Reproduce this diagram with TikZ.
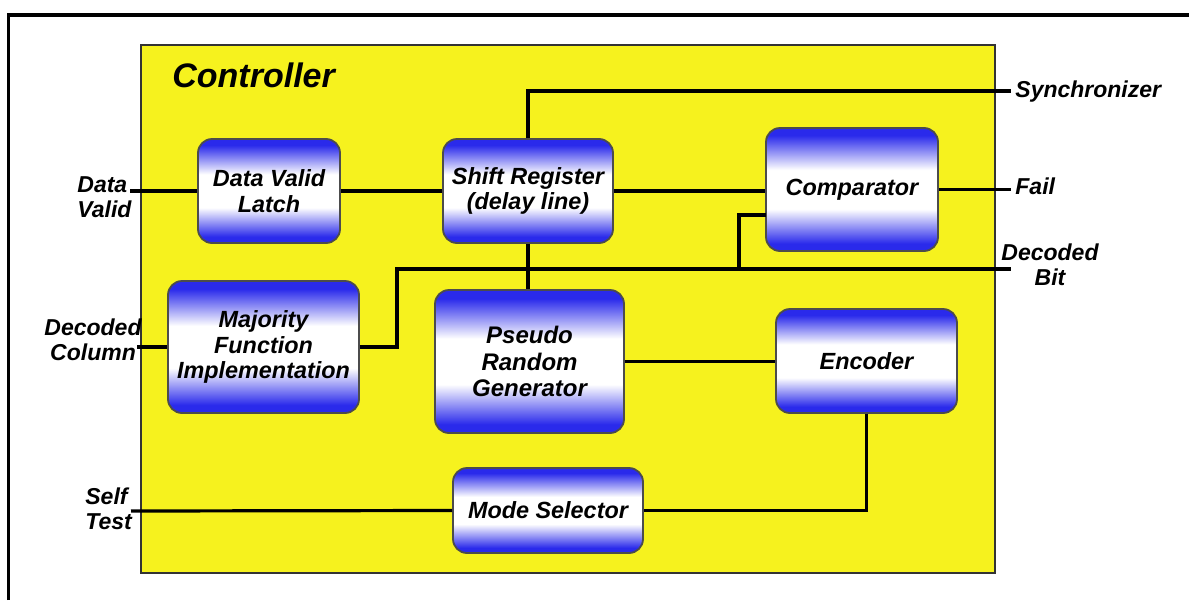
\documentclass[tikz,border=0pt]{standalone}
\usepackage{fontspec}
\setmainfont{Liberation Sans}
\definecolor{ybg}{RGB}{246,242,30}
\definecolor{bbl}{RGB}{42,42,235}
\pgfdeclareverticalshading{boxshade}{100bp}{color(0bp)=(bbl); color(25bp)=(bbl); color(28bp)=(bbl); color(42bp)=(white); color(58bp)=(white); color(72bp)=(bbl); color(75bp)=(bbl); color(100bp)=(bbl)}
\tikzset{
  blk/.style={rounded corners=7pt, draw=black!70, line width=0.9pt, shading=boxshade,
    font=\bfseries\itshape\fontsize{11.7}{12.8}\selectfont, align=center, inner sep=0pt},
  lbl/.style={font=\bfseries\itshape\fontsize{11.5}{12.5}\selectfont, inner sep=0pt},
  wire/.style={line width=1.6pt, black}
}
\begin{document}
\begin{tikzpicture}[x=0.5pt,y=-0.5pt]
\useasboundingbox (0,0) rectangle (1189,600);
\fill[white] (0,0) rectangle (1189,600);
\draw[line width=1.6pt] (8.5,600) -- (8.5,15) -- (1189,15);
\node[draw=black!80, line width=0.8pt, fill=ybg, minimum width=427pt, minimum height=264pt, inner sep=0pt, anchor=north west] (ctrl) at (140,44) {};
\node[anchor=west, font=\bfseries\itshape\fontsize{17}{20}\selectfont, inner sep=0pt] (title) at (172,75) {Controller};

% blocks
\node[blk, minimum width=71pt, minimum height=52pt] (dvl) at (269,191) {Data Valid\\Latch};
\node[blk, minimum width=85pt, minimum height=52pt] (sr) at (528,191) {Shift Register\\(delay line)};
\node[blk, minimum width=86pt, minimum height=61.5pt] (comp) at (852,189.5) {Comparator};
\node[blk, minimum width=95.5pt, minimum height=66pt] (maj) at (263.5,347) {Majority\\Function\\Implementation};
\node[blk, minimum width=94.5pt, minimum height=71.5pt, font=\bfseries\itshape\fontsize{12}{13.2}\selectfont] (prg) at (529.5,361.5) {Pseudo\\Random\\Generator};
\node[blk, minimum width=90.5pt, minimum height=52pt] (enc) at (866.5,361) {Encoder};
\node[blk, minimum width=95pt, minimum height=42.5pt] (ms) at (548,510.5) {Mode Selector};

% external labels
\node[lbl, anchor=west, align=left] (ldv) at (77,197) {Data\\Valid};
\node[lbl, anchor=center, align=center] (ldc) at (93,340) {Decoded\\Column};
\node[lbl, anchor=west, align=left] (lst) at (85,509) {Self\\Test};
\node[lbl, anchor=west] (lsy) at (1015,92) {Synchronizer};
\node[lbl, anchor=west] (lfa) at (1015,186) {Fail};
\node[lbl, anchor=center, align=center] (ldb) at (1050,265) {Decoded\\Bit};

% coordinates
\coordinate (pdv) at (130,191);
\coordinate (pdc) at (137,347);
\coordinate (pst) at (131,511);
\coordinate (psy) at (1011,91);
\coordinate (pfa) at (1011,189.5);
\coordinate (pdb) at (1011,269);
\coordinate (j1) at (397,269);
\coordinate (j2) at (739,269);
\coordinate (c2) at (766,215);

% wires
\draw[wire] (pdv) -- (dvl.west);
\draw[wire] (dvl.east) -- (sr.west);
\draw[wire] (sr.north) |- (psy);
\draw[wire] (sr.east) -- (sr.east -| comp.west);
\draw[wire] (comp.east) -- (pfa);
\draw[wire] (sr.south) -- (sr.south |- prg.north);
\draw[wire] (pdc) -- (maj.west);
\draw[wire] (maj.east) -| (j1) -- (pdb);
\draw[wire] (j2) |- (c2);
\draw[wire] (prg.east) -- (prg.east -| enc.west);
\draw[wire] (enc.south) |- (ms.east);
\draw[wire] (pst) -- (ms.west);
\end{tikzpicture}
\end{document}
